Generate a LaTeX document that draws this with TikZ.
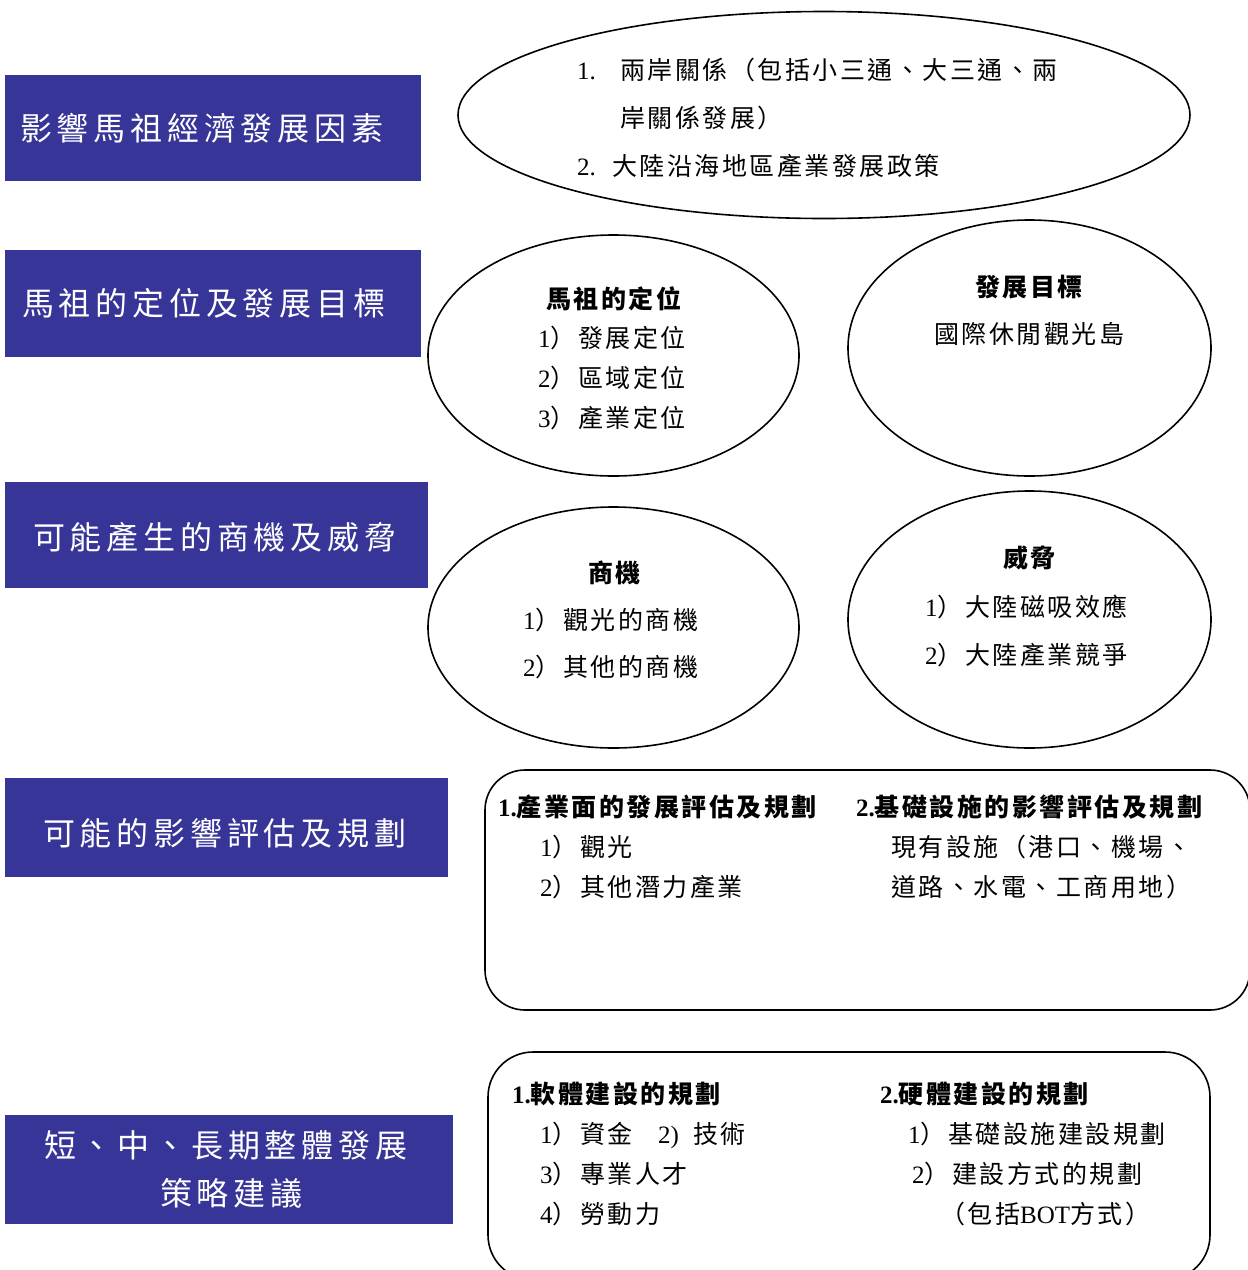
\documentclass[tikz,border=0pt]{standalone}
\usepackage{fontspec}
\setmainfont{Liberation Serif}
\newfontfamily\cjk[LetterSpace=10]{Noto Sans CJK TC}
\newfontfamily\cjkt[LetterSpace=15]{Noto Sans CJK TC}
\newfontfamily\lat{Liberation Serif}
\usetikzlibrary{shapes.geometric}
\definecolor{tblue}{RGB}{55,53,151}
\newcommand\dg[1]{{\lat #1}}
\begin{document}
\begin{tikzpicture}[x=1pt,y=-1pt,
  tbox/.style={fill=tblue, draw=none, anchor=north west, inner sep=0pt},
  ttext/.style={anchor=west, inner sep=0pt, text=white, text height=28pt, text depth=4pt,
    font=\cjkt\fontsize{32}{38}\selectfont},
  oval/.style={ellipse, draw=black, line width=1.6pt, inner sep=0pt},
  rbox/.style={draw=black, line width=1.6pt},
  txt/.style={anchor=west, inner sep=0pt, text height=22pt, text depth=3pt,
    font=\cjk\fontsize{25}{30}\selectfont},
  btxt/.style={txt, font=\cjk\bfseries\fontsize{25}{30}\selectfont}
]
\useasboundingbox (0,0) rectangle (1248,1270);

% title boxes
\node[tbox, minimum width=416pt, minimum height=106pt] (t1) at (5,75) {};
\node[tbox, minimum width=416pt, minimum height=107pt] (t2) at (5,250) {};
\node[tbox, minimum width=423pt, minimum height=106pt] (t3) at (5,482) {};
\node[tbox, minimum width=443pt, minimum height=99pt] (t4) at (5,778) {};
\node[tbox, minimum width=448pt, minimum height=109pt] (t5) at (5,1115) {};
\node[ttext] (t1a) at (20,128) {影響馬祖經濟發展因素};
\node[ttext] (t2a) at (22,303) {馬祖的定位及發展目標};
\node[ttext] (t3a) at (33,537) {可能產生的商機及威脅};
\node[ttext] (t4a) at (43,833) {可能的影響評估及規劃};
\node[ttext] (t5a) at (44,1145) {短、中、長期整體發展};
\node[ttext] (t5b) at (160,1193) {策略建議};

% ovals
\node[oval, minimum width=732pt, minimum height=207pt] (e1) at (824,115) {};
\node[oval, minimum width=371pt, minimum height=241pt] (e2) at (613.5,355.5) {};
\node[oval, minimum width=363pt, minimum height=256pt] (e3) at (1029.5,348) {};
\node[oval, minimum width=371pt, minimum height=241pt] (e4) at (613.5,627.5) {};
\node[oval, minimum width=363pt, minimum height=257pt] (e5) at (1029.5,619.5) {};

% oval 1 text
\node[txt] (e1n1) at (577,70) {\dg{1.}};
\node[txt] (e1a) at (620,70) {兩岸關係（包括小三通、大三通、兩};
\node[txt] (e1b) at (620,118) {岸關係發展）};
\node[txt] (e1n2) at (577,166) {\dg{2.}};
\node[txt] (e1c) at (612,166) {大陸沿海地區產業發展政策};

% oval 2
\node[btxt] (e2h) at (546,299) {馬祖的定位};
\node[txt] (e2a) at (538,338) {\dg{1}）發展定位};
\node[txt] (e2b) at (538,378) {\dg{2}）區域定位};
\node[txt] (e2c) at (538,418) {\dg{3}）產業定位};

% oval 3
\node[btxt] (e3h) at (975,287) {發展目標};
\node[txt] (e3a) at (934,334) {國際休閒觀光島};

% oval 4
\node[btxt] (e4h) at (588,573) {商機};
\node[txt] (e4a) at (523,620) {\dg{1}）觀光的商機};
\node[txt] (e4b) at (523,667) {\dg{2}）其他的商機};

% oval 5
\node[btxt] (e5h) at (1003,558) {威脅};
\node[txt] (e5a) at (925,607) {\dg{1}）大陸磁吸效應};
\node[txt] (e5b) at (925,655) {\dg{2}）大陸產業競爭};

% rounded box 1
\draw[rbox, rounded corners=40pt] (485,770) rectangle (1250,1010);
\node[btxt] (b1h1) at (498,807) {\dg{\bfseries 1.}產業面的發展評估及規劃};
\node[btxt] (b1h2) at (856,807) {\dg{\bfseries 2.}基礎設施的影響評估及規劃};
\node[txt] (b1a) at (540,847) {\dg{1}）觀光};
\node[txt] (b1b) at (540,887) {\dg{2}）其他潛力產業};
\node[txt] (b1c) at (891,847) {現有設施（港口、機場、};
\node[txt] (b1d) at (891,887) {道路、水電、工商用地）};

% rounded box 2
\draw[rbox, rounded corners=45pt] (488,1052) rectangle (1210,1280);
\node[btxt] (b2h1) at (512,1094) {\dg{\bfseries 1.}軟體建設的規劃};
\node[txt] (b2a) at (540,1134) {\dg{1}）資金};
\node[txt] (b2a2) at (658,1134) {\dg{2)}\hspace{14pt}技術};
\node[txt] (b2b) at (540,1174) {\dg{3}）專業人才};
\node[txt] (b2c) at (540,1214) {\dg{4}）勞動力};
\node[btxt] (b2h2) at (880,1094) {\dg{\bfseries 2.}硬體建設的規劃};
\node[txt] (b2d) at (908,1134) {\dg{1}）基礎設施建設規劃};
\node[txt] (b2e) at (912,1174) {\dg{2}）建設方式的規劃};
\node[txt] (b2f) at (940,1214) {（包括\dg{BOT}方式）};
\end{tikzpicture}
\end{document}
